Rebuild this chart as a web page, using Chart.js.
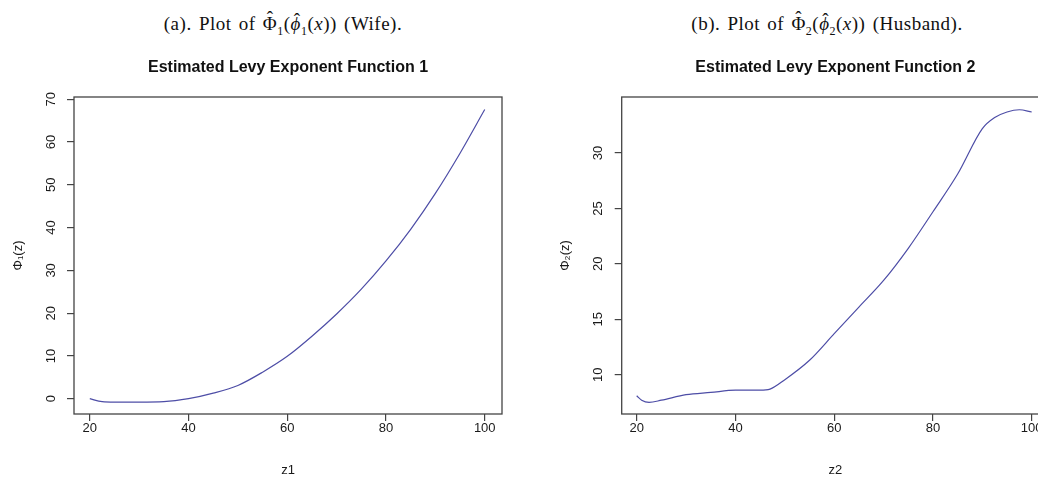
<!doctype html>
<html lang="en">
    <head>
        <meta charset="UTF-8" />
        <title>Estimated Levy Exponent Functions</title>
        <script src="https://cdn.jsdelivr.net/npm/chart.js"></script>
        <style>
            html, body { margin: 0; padding: 0; background: #fff; overflow: hidden; width: 1038px; height: 479px; }
            .cap { position: absolute; top: 13px; font-family: "Liberation Serif", serif; font-size: 19px; letter-spacing: 0.5px; word-spacing: 2px; color: #111; text-align: center; white-space: nowrap; }
            .cap sub { font-size: 12px; }
            .hat { position: relative; display: inline-block; }
            .hat::after { content: "\02C6"; position: absolute; left: 0; right: 0; top: -0.3em; text-align: center; font-style: normal; }
            .hat.it::after { left: 0.15em; top: -0.22em; }
            canvas { position: absolute; top: 0; }
        </style>
    </head>
    <body>
        <div class="cap" style="left: 0; width: 566px">(a). Plot of <span class="hat">Φ</span><sub>1</sub>(<i class="hat it">ϕ</i><sub>1</sub>(<i>x</i>)) (Wife).</div>
        <div class="cap" style="left: 627px; width: 400px">(b). Plot of <span class="hat">Φ</span><sub>2</sub>(<i class="hat it">ϕ</i><sub>2</sub>(<i>x</i>)) (Husband).</div>
        <canvas id="chart1" width="519" height="479" style="left: 0"></canvas>
        <canvas id="chart2" width="547" height="479" style="left: 519px"></canvas>
        <script>
            // values
            var z1 = [20, 22.5, 25, 30, 35, 40, 45, 50, 55, 60, 65, 70, 75, 80, 85, 90, 95, 100];
            var phi1 = [0.0, -0.7, -0.8, -0.8, -0.7, 0.0, 1.3, 3.1, 6.2, 9.9, 14.6, 19.8, 25.6, 32.2, 39.6, 48.0, 57.4, 67.6];

            var z2 = [20, 21, 22.5, 25, 30, 35, 40, 45, 47, 50, 55, 60, 65, 70, 75, 80, 85, 90, 92.5, 95, 97.5, 100];
            var phi2 = [8.1, 7.7, 7.5, 7.7, 8.2, 8.4, 8.6, 8.6, 8.7, 9.55, 11.3, 13.7, 16.1, 18.5, 21.4, 24.7, 28.1, 32.2, 33.2, 33.7, 33.9, 33.7];

            var xTicks = [20, 40, 60, 80, 100];
            var yTicks1 = [0, 10, 20, 30, 40, 50, 60, 70];
            var yTicks2 = [10, 15, 20, 25, 30];

            var sans = '"Liberation Sans", Arial, sans-serif';

            // R style box plus rotated y tick labels
            var frame = {
                id: "frame",
                afterDraw: function (chart) {
                    var ctx = chart.ctx;
                    var a = chart.chartArea;
                    var ys = chart.scales.y;
                    ctx.save();
                    ctx.strokeStyle = "#444";
                    ctx.lineWidth = 1.3;
                    ctx.strokeRect(a.left, a.top, a.right - a.left, a.bottom - a.top);
                    ctx.fillStyle = "#1a1a1a";
                    ctx.font = "13px " + sans;
                    ctx.textAlign = "center";
                    ctx.textBaseline = "middle";
                    ys.ticks.forEach(function (t) {
                        var y = ys.getPixelForValue(t.value);
                        ctx.save();
                        ctx.translate(a.left - 23, y);
                        ctx.rotate(-Math.PI / 2);
                        ctx.fillText(String(t.value), 0, 0);
                        ctx.restore();
                    });
                    ctx.restore();
                }
            };

            function makeChart(id, xs, ys, opt) {
                var pts = xs.map(function (x, i) {
                    return { x: x, y: ys[i] };
                });
                return new Chart(document.getElementById(id), {
                    type: "line",
                    data: {
                        datasets: [
                            {
                                data: pts,
                                borderColor: "#4d4da6",
                                borderWidth: 1.2,
                                pointRadius: 0,
                                cubicInterpolationMode: "monotone",
                                fill: false
                            }
                        ]
                    },
                    options: {
                        responsive: false,
                        animation: false,
                        layout: { padding: { left: opt.padLeft, right: 17, top: 0, bottom: 0 } },
                        plugins: {
                            legend: { display: false },
                            tooltip: { enabled: false },
                            title: {
                                display: true,
                                text: opt.title,
                                fullSize: false,
                                color: "#111",
                                font: { family: sans, size: 16, weight: "bold" },
                                padding: { top: 58.4, bottom: 19.4 }
                            }
                        },
                        scales: {
                            x: {
                                type: "linear",
                                min: opt.xMin,
                                max: opt.xMax,
                                afterBuildTicks: function (s) {
                                    s.ticks = xTicks.map(function (v) { return { value: v }; });
                                },
                                afterFit: function (s) {
                                    s.height = 65;
                                },
                                grid: { display: true, drawOnChartArea: false, drawTicks: true, tickLength: 7, color: "#444", lineWidth: 1.2 },
                                border: { display: false },
                                ticks: { color: "#1a1a1a", font: { family: sans, size: 13 }, padding: 0, maxRotation: 0, autoSkip: false },
                                title: { display: true, text: opt.xLabel, color: "#1a1a1a", font: { family: sans, size: 13 }, padding: { top: 0, bottom: 1.2 } }
                            },
                            y: {
                                type: "linear",
                                min: opt.yMin,
                                max: opt.yMax,
                                afterBuildTicks: function (s) {
                                    s.ticks = opt.yTicks.map(function (v) { return { value: v }; });
                                },
                                afterFit: function (s) {
                                    s.width = 74;
                                },
                                grid: { display: true, drawOnChartArea: false, drawTicks: true, tickLength: 7, color: "#444", lineWidth: 1.2 },
                                border: { display: false },
                                ticks: { display: false },
                                title: { display: true, text: opt.yLabel, color: "#1a1a1a", font: { family: sans, size: 13 }, padding: { top: 10.2, bottom: 0 } }
                            }
                        }
                    },
                    plugins: [frame]
                });
            }

            makeChart("chart1", z1, phi1, {
                title: "Estimated Levy Exponent Function 1",
                xLabel: "z1",
                yLabel: "Φ₁(z)",
                xMin: 16.8,
                xMax: 103.5,
                yMin: -3.58,
                yMax: 70.54,
                yTicks: yTicks1,
                padLeft: 0
            });

            makeChart("chart2", z2, phi2, {
                title: "Estimated Levy Exponent Function 2",
                xLabel: "z2",
                yLabel: "Φ₂(z)",
                xMin: 16.96,
                xMax: 103.5,
                yMin: 6.455,
                yMax: 35.05,
                yTicks: yTicks2,
                padLeft: 28.7
            });
        </script>
    </body>
</html>
